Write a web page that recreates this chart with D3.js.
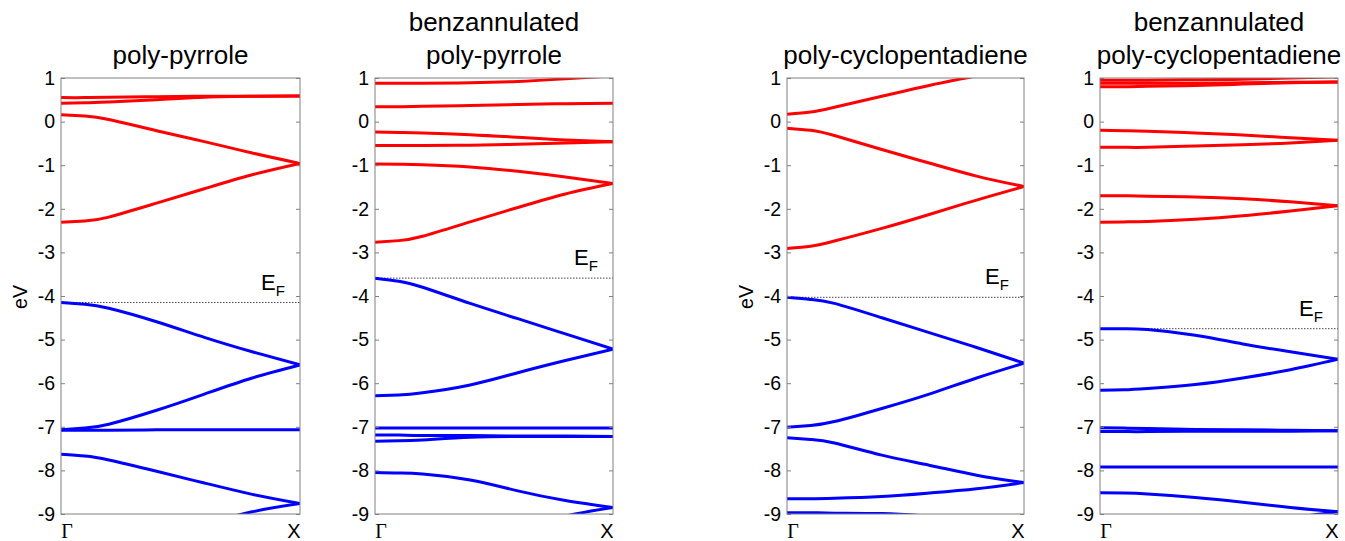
<!DOCTYPE html>
<html lang="en">
<head>
  <meta charset="utf-8"/>
  <script src="https://d3js.org/d3.v7.min.js"></script>
  <style>
    body { margin: 0; background: #fff; }
    svg text { font-family: "Liberation Sans", Arial, sans-serif; fill: #000; }
    .frame { fill: none; stroke: #808080; stroke-width: 1px; }
    .tick-mark { stroke: #808080; stroke-width: 1px; }
    .band { fill: none; stroke-width: 3px; stroke-linejoin: round; }
    .fermi { stroke: #444; stroke-width: 1px; stroke-dasharray: 1.5,1.5; }
  </style>
</head>
<body>
<div id="chart"></div>
<script>
  const kPoints = [0, 0.1, 0.2, 0.4, 0.6, 0.8, 1];
  const energyTicks = [1, 0, -1, -2, -3, -4, -5, -6, -7, -8, -9];

  const titles = [
    ["poly-pyrrole"],
    ["benzannulated", "poly-pyrrole"],
    ["poly-cyclopentadiene"],
    ["benzannulated", "poly-cyclopentadiene"]
  ];
  const fermiLevels = [-4.15, -3.59, -4.03, -4.75];

  // conduction bands (red), eV at kPoints
  const pyrroleCond = [
    [0.55, 0.55, 0.56, 0.57, 0.58, 0.58, 0.59],
    [0.42, 0.43, 0.45, 0.50, 0.56, 0.58, 0.59],
    [0.16, 0.13, 0.05, -0.21, -0.46, -0.72, -0.96],
    [-2.31, -2.28, -2.19, -1.87, -1.54, -1.22, -0.96]
  ];
  // valence bands (blue)
  const pyrroleVal = [
    [-4.15, -4.19, -4.28, -4.59, -4.95, -5.28, -5.58],
    [-7.07, -7.03, -6.94, -6.62, -6.25, -5.88, -5.58],
    [-7.08, -7.08, -7.08, -7.07, -7.07, -7.07, -7.07],
    [-7.63, -7.67, -7.76, -8.02, -8.29, -8.55, -8.76],
    [-9.95, -9.92, -9.85, -9.60, -9.25, -8.95, -8.76]
  ];

  const bzPyrroleCond = [
    [0.88, 0.88, 0.88, 0.89, 0.92, 0.98, 1.05],
    [0.34, 0.34, 0.35, 0.37, 0.39, 0.41, 0.42],
    [-0.24, -0.25, -0.26, -0.30, -0.36, -0.42, -0.46],
    [-0.55, -0.55, -0.55, -0.54, -0.52, -0.49, -0.46],
    [-0.97, -0.98, -0.99, -1.04, -1.14, -1.27, -1.42],
    [-2.77, -2.73, -2.63, -2.30, -1.97, -1.66, -1.42]
  ];
  const bzPyrroleVal = [
    [-3.59, -3.66, -3.80, -4.17, -4.52, -4.87, -5.22],
    [-6.29, -6.27, -6.22, -6.04, -5.76, -5.48, -5.22],
    [-7.03, -7.03, -7.03, -7.03, -7.03, -7.03, -7.03],
    [-7.19, -7.19, -7.20, -7.20, -7.21, -7.21, -7.22],
    [-7.33, -7.32, -7.30, -7.24, -7.22, -7.22, -7.22],
    [-8.05, -8.06, -8.08, -8.22, -8.47, -8.69, -8.85],
    [-9.90, -9.87, -9.80, -9.60, -9.35, -9.05, -8.85]
  ];

  const cpdCond = [
    [0.17, 0.22, 0.33, 0.58, 0.83, 1.05, 1.28],
    [-0.15, -0.20, -0.32, -0.64, -0.95, -1.25, -1.49],
    [-2.91, -2.86, -2.74, -2.45, -2.13, -1.80, -1.49]
  ];
  const cpdVal = [
    [-4.03, -4.08, -4.17, -4.50, -4.84, -5.18, -5.54],
    [-7.01, -6.97, -6.88, -6.58, -6.25, -5.88, -5.54],
    [-7.25, -7.29, -7.37, -7.65, -7.88, -8.11, -8.28],
    [-8.65, -8.65, -8.64, -8.60, -8.52, -8.42, -8.28],
    [-8.97, -8.97, -8.98, -8.99, -9.05, -9.15, -9.30]
  ];

  const bzCpdCond = [
    [0.95, 0.95, 0.95, 0.96, 0.97, 1.00, 1.03],
    [0.88, 0.88, 0.88, 0.88, 0.89, 0.90, 0.91],
    [0.80, 0.80, 0.81, 0.83, 0.86, 0.89, 0.91],
    [-0.20, -0.21, -0.22, -0.26, -0.31, -0.37, -0.43],
    [-0.59, -0.59, -0.59, -0.56, -0.53, -0.49, -0.43],
    [-1.70, -1.70, -1.71, -1.73, -1.77, -1.84, -1.93],
    [-2.31, -2.30, -2.29, -2.24, -2.16, -2.05, -1.93]
  ];
  const bzCpdVal = [
    [-4.75, -4.75, -4.77, -4.90, -5.10, -5.28, -5.45],
    [-6.16, -6.15, -6.12, -6.03, -5.88, -5.69, -5.45],
    [-7.02, -7.03, -7.04, -7.06, -7.07, -7.08, -7.09],
    [-7.11, -7.11, -7.11, -7.10, -7.10, -7.10, -7.09],
    [-7.92, -7.92, -7.92, -7.92, -7.92, -7.92, -7.92],
    [-8.51, -8.52, -8.54, -8.62, -8.73, -8.85, -8.95],
    [-9.80, -9.75, -9.70, -9.50, -9.30, -9.10, -8.95]
  ];

  const panelBands = [
    [pyrroleCond, pyrroleVal],
    [bzPyrroleCond, bzPyrroleVal],
    [cpdCond, cpdVal],
    [bzCpdCond, bzCpdVal]
  ];

  const W = 1345, H = 541;
  const plotTop = 78, plotBottom = 514;
  const panelX = [[61, 300], [375, 613], [787, 1024], [1100, 1338]];
  const showYLabel = [true, false, true, false];

  const svg = d3.select("#chart").append("svg")
    .attr("width", W).attr("height", H);

  const y = d3.scaleLinear().domain([-9, 1]).range([plotBottom, plotTop]);

  panelX.forEach((px, i) => {
    const x = d3.scaleLinear().domain([0, 1]).range(px);
    const g = svg.append("g");

    g.append("clipPath").attr("id", "clip" + i)
      .append("rect")
      .attr("x", px[0]).attr("y", plotTop)
      .attr("width", px[1] - px[0]).attr("height", plotBottom - plotTop);

    // Fermi level
    g.append("line").attr("class", "fermi")
      .attr("x1", px[0]).attr("x2", px[1])
      .attr("y1", y(fermiLevels[i])).attr("y2", y(fermiLevels[i]));

    const ef = g.append("text")
      .attr("x", px[1] - 39).attr("y", y(fermiLevels[i]) - 13)
      .attr("font-size", 22);
    ef.append("tspan").text("E");
    ef.append("tspan").attr("font-size", 15).attr("dy", 6).text("F");

    const line = d3.line()
      .x((d, j) => x(kPoints[j]))
      .y(d => y(d))
      .curve(d3.curveNatural);

    const bands = g.append("g").attr("clip-path", `url(#clip${i})`);
    const [cond, val] = panelBands[i];
    bands.selectAll(".cond").data(cond).enter().append("path")
      .attr("class", "band cond").attr("stroke", "#ff0000").attr("d", line);
    bands.selectAll(".val").data(val).enter().append("path")
      .attr("class", "band val").attr("stroke", "#0000ff").attr("d", line);

    // frame
    g.append("rect").attr("class", "frame")
      .attr("x", px[0]).attr("y", plotTop)
      .attr("width", px[1] - px[0]).attr("height", plotBottom - plotTop);

    // y axis: ticks inward on both sides
    const yAxisL = d3.axisRight(y).tickValues(energyTicks).tickSize(4).tickFormat("");
    const yAxisR = d3.axisLeft(y).tickValues(energyTicks).tickSize(4).tickFormat("");
    [[yAxisL, px[0]], [yAxisR, px[1]]].forEach(([ax, xpos]) => {
      const a = g.append("g").attr("transform", `translate(${xpos},0)`).call(ax);
      a.select(".domain").remove();
      a.selectAll(".tick line").attr("class", "tick-mark").attr("stroke", null);
    });
    g.selectAll(".ylab").data(energyTicks).enter().append("text")
      .attr("x", px[0] - 6).attr("y", d => y(d))
      .attr("dy", "0.35em").attr("text-anchor", "end")
      .attr("font-size", 19.5).text(d => d);

    // k-point labels
    g.append("text").attr("x", px[0] + 6).attr("y", 538)
      .attr("text-anchor", "middle").attr("font-size", 20)
      .style("font-family", '"Liberation Serif", "Times New Roman", serif')
      .text("Γ");
    g.append("text").attr("x", px[1] - 6).attr("y", 538)
      .attr("text-anchor", "middle").attr("font-size", 20)
      .text("X");

    if (showYLabel[i]) {
      g.append("text")
        .attr("transform", `translate(${px[0] - 34},297) rotate(-90)`)
        .attr("text-anchor", "middle").attr("font-size", 19.5)
        .text("eV");
    }

    // title
    const cx = (px[0] + px[1]) / 2;
    const lines = titles[i];
    lines.forEach((t, j) => {
      g.append("text").attr("x", cx)
        .attr("y", 64 - (lines.length - 1 - j) * 33)
        .attr("text-anchor", "middle").attr("font-size", 26)
        .text(t);
    });
  });
</script>
</body>
</html>
